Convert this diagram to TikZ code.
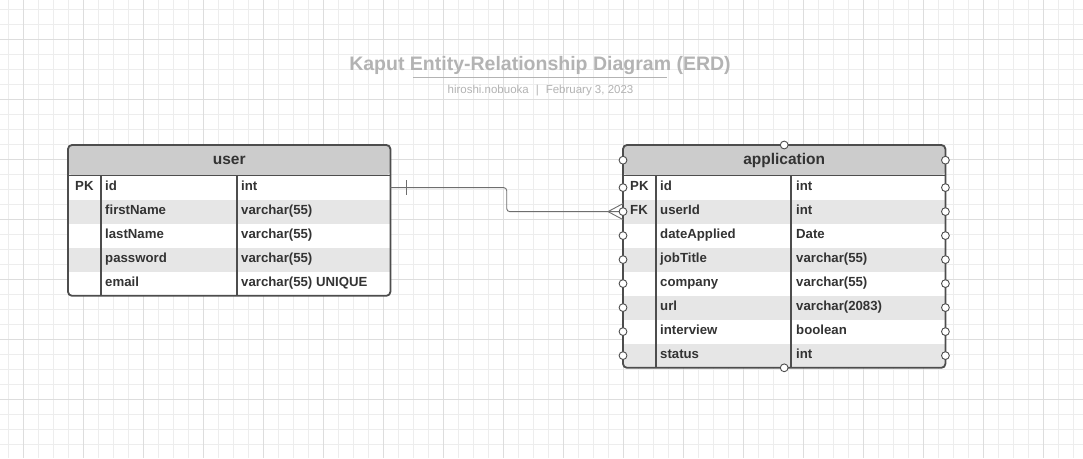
\documentclass[tikz,border=0pt]{standalone}
\usepackage{fontspec}
\setmainfont{Liberation Sans}
\usetikzlibrary{calc}

\definecolor{gridminor}{HTML}{EDEDED}
\definecolor{gridmajor}{HTML}{DDDDDD}
\definecolor{headgray}{HTML}{CCCCCC}
\definecolor{rowgray}{HTML}{E6E6E6}
\definecolor{linegray}{HTML}{4D4D4D}
\definecolor{txtgray}{HTML}{333333}
\definecolor{titlegray}{HTML}{B3B3B3}
\definecolor{relgray}{HTML}{6E6E6E}

\tikzset{
  tblhead/.style={fill=headgray, rounded corners=4pt, minimum width=322pt, minimum height=30pt,
    inner sep=0pt, anchor=north west, text=txtgray, font=\bfseries\fontsize{15.5}{18}\selectfont},
  tblrow/.style={minimum width=322pt, minimum height=24pt, inner sep=0pt, anchor=north west},
  cell/.style={anchor=base west, inner sep=0pt, text=txtgray, font=\bfseries\fontsize{13.2}{15}\selectfont},
  tblline/.style={draw=linegray, line width=1.8pt},
  port/.style={circle, draw=linegray, fill=white, line width=0.9pt, inner sep=0pt, minimum size=7.8pt},
  relline/.style={draw=relgray, line width=0.9pt},
}

\begin{document}
\begin{tikzpicture}[x=1pt,y=-1pt]

\useasboundingbox (0,0) rectangle (1083,458);
\fill[white] (0,0) rectangle (1083,458);

% Background grid
\foreach \x in {8,23,...,1073} \draw[gridminor, line width=0.7pt] (\x,0) -- (\x,458);
\foreach \y in {9,24,...,454} \draw[gridminor, line width=0.7pt] (0,\y) -- (1083,\y);
\foreach \x in {23,83,...,1043} \draw[gridmajor, line width=0.8pt] (\x,0) -- (\x,458);
\foreach \y in {39,99,...,399} \draw[gridmajor, line width=0.8pt] (0,\y) -- (1083,\y);

% Title block
\node[anchor=base, text=titlegray, font=\bfseries\fontsize{19.5}{23}\selectfont] (title) at (540,70)
  {Kaput Entity-Relationship Diagram (ERD)};
\draw[titlegray, line width=1.3pt] (413,77.5) -- (667,77.5);
\node[anchor=base, text=titlegray, font=\fontsize{11.5}{13}\selectfont] (byline) at (540.5,93)
  {hiroshi.nobuoka\hspace{7pt}|\hspace{7pt}February 3, 2023};

% user table
\node[tblhead] (user) at (68,145) {user};
\foreach \i/\rowfill/\pk/\fld/\typ in {1/white/PK/id/int, 2/rowgray//firstName/varchar(55),
    3/white//lastName/varchar(55), 4/rowgray//password/varchar(55), 5/white//email/varchar(55) UNIQUE}{
  \node[tblrow, fill=\rowfill] (u\i) at ($(user.south west)+(0,{24*(\i-1)})$) {};
  \node[cell] (u\i-key) at ($(u\i.north west)+(7,15)$) {\pk};
  \node[cell] (u\i-name) at ($(u\i.north west)+(37,15)$) {\fld};
  \node[cell] (u\i-type) at ($(u\i.north west)+(173,15)$) {\typ};
}
\draw[tblline] ([xshift=33pt]u1.north west) -- ([xshift=33pt]u5.south west);
\draw[tblline] ([xshift=169pt]u1.north west) -- ([xshift=169pt]u5.south west);
\draw[tblline] (user.south west) -- (user.south east);
\draw[tblline, rounded corners=4pt] (user.north west) rectangle (u5.south east);

% application table
\node[tblhead] (app) at (623,145) {application};
\foreach \i/\rowfill/\pk/\fld/\typ in {1/white/PK/id/int, 2/rowgray/FK/userId/int,
    3/white//dateApplied/Date, 4/rowgray//jobTitle/varchar(55), 5/white//company/varchar(55),
    6/rowgray//url/varchar(2083), 7/white//interview/boolean, 8/rowgray//status/int}{
  \node[tblrow, fill=\rowfill] (a\i) at ($(app.south west)+(0,{24*(\i-1)})$) {};
  \node[cell] (a\i-key) at ($(a\i.north west)+(7,15)$) {\pk};
  \node[cell] (a\i-name) at ($(a\i.north west)+(37,15)$) {\fld};
  \node[cell] (a\i-type) at ($(a\i.north west)+(173,15)$) {\typ};
}
\draw[tblline] ([xshift=33pt]a1.north west) -- ([xshift=33pt]a8.south west);
\draw[tblline] ([xshift=168pt]a1.north west) -- ([xshift=168pt]a8.south west);
\draw[tblline] (app.south west) -- (app.south east);
\draw[tblline, rounded corners=4pt] (app.north west) rectangle (a8.south east);

% Relationship user.id -> application.userId (one to many)
\coordinate (bend) at ($(u1.east)!.5!(a2.west)$);
\draw[relline, rounded corners=3pt] (u1.east) -| (bend) |- (a2.west);
\draw[relline] ([xshift=16pt,yshift=7.5pt]u1.east) -- ([xshift=16pt,yshift=-7.5pt]u1.east);
\draw[relline] ([yshift=8pt]a2.west) -- ([xshift=-15pt]a2.west) -- ([yshift=-8pt]a2.west);

% connection points
\node[port] (app-top) at (app.north) {};
\node[port] (app-bot) at (a8.south) {};
\node[port] (app-hl) at (app.west) {};
\node[port] (app-hr) at (app.east) {};
\foreach \i in {1,...,8}{
  \node[port] (a\i-pl) at (a\i.west) {};
  \node[port] (a\i-pr) at (a\i.east) {};
}

\end{tikzpicture}
\end{document}
